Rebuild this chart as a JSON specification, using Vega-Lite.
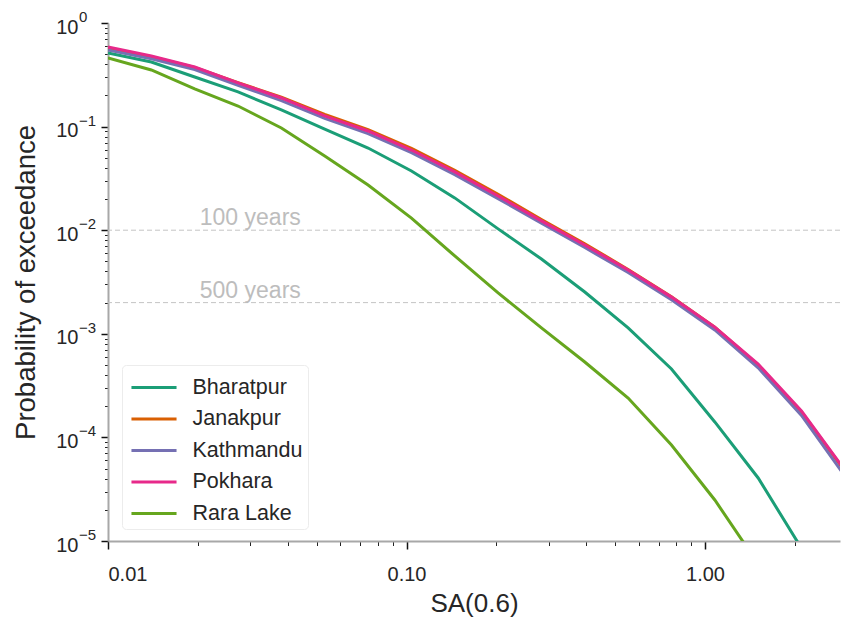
{
  "$schema": "https://vega.github.io/schema/vega-lite/v6.json",
  "width": 732,
  "height": 518,
  "autosize": "none",
  "padding": {"left": 108, "top": 23, "right": 1, "bottom": 78},
  "background": "white",
  "config": {
    "view": {"stroke": null},
    "axis": {"grid": false, "labelFont": "Liberation Sans", "titleFont": "Liberation Sans", "labelColor": "#262626", "titleColor": "#262626", "titleFontWeight": "normal"},
    "text": {"font": "Liberation Sans"},
    "legend": {"labelFont": "Liberation Sans"}
  },
  "datasets": {
    "curves": [
      {"site": "Bharatpur", "sa": 0.01, "p": 0.513},
      {"site": "Bharatpur", "sa": 0.01397, "p": 0.42},
      {"site": "Bharatpur", "sa": 0.01952, "p": 0.301},
      {"site": "Bharatpur", "sa": 0.02727, "p": 0.216},
      {"site": "Bharatpur", "sa": 0.03809, "p": 0.145},
      {"site": "Bharatpur", "sa": 0.05322, "p": 0.0948},
      {"site": "Bharatpur", "sa": 0.07435, "p": 0.0621},
      {"site": "Bharatpur", "sa": 0.1039, "p": 0.0373},
      {"site": "Bharatpur", "sa": 0.1451, "p": 0.0205},
      {"site": "Bharatpur", "sa": 0.2027, "p": 0.0103},
      {"site": "Bharatpur", "sa": 0.2832, "p": 0.00527},
      {"site": "Bharatpur", "sa": 0.3956, "p": 0.00253},
      {"site": "Bharatpur", "sa": 0.5527, "p": 0.00114},
      {"site": "Bharatpur", "sa": 0.7721, "p": 0.000457},
      {"site": "Bharatpur", "sa": 1.0786, "p": 0.000141},
      {"site": "Bharatpur", "sa": 1.507, "p": 0.0000406},
      {"site": "Bharatpur", "sa": 2.105, "p": 0.0000085},

      {"site": "Janakpur", "sa": 0.01, "p": 0.572},
      {"site": "Janakpur", "sa": 0.01397, "p": 0.472},
      {"site": "Janakpur", "sa": 0.01952, "p": 0.372},
      {"site": "Janakpur", "sa": 0.02727, "p": 0.266},
      {"site": "Janakpur", "sa": 0.03809, "p": 0.192},
      {"site": "Janakpur", "sa": 0.05322, "p": 0.131},
      {"site": "Janakpur", "sa": 0.07435, "p": 0.0935},
      {"site": "Janakpur", "sa": 0.1039, "p": 0.0615},
      {"site": "Janakpur", "sa": 0.1451, "p": 0.0378},
      {"site": "Janakpur", "sa": 0.2027, "p": 0.0222},
      {"site": "Janakpur", "sa": 0.2832, "p": 0.0127},
      {"site": "Janakpur", "sa": 0.3956, "p": 0.0074},
      {"site": "Janakpur", "sa": 0.5527, "p": 0.00418},
      {"site": "Janakpur", "sa": 0.7721, "p": 0.00228},
      {"site": "Janakpur", "sa": 1.0786, "p": 0.00116},
      {"site": "Janakpur", "sa": 1.507, "p": 0.0005},
      {"site": "Janakpur", "sa": 2.105, "p": 0.000176},
      {"site": "Janakpur", "sa": 2.94, "p": 0.0000475},

      {"site": "Kathmandu", "sa": 0.01, "p": 0.548},
      {"site": "Kathmandu", "sa": 0.01397, "p": 0.452},
      {"site": "Kathmandu", "sa": 0.01952, "p": 0.356},
      {"site": "Kathmandu", "sa": 0.02727, "p": 0.25},
      {"site": "Kathmandu", "sa": 0.03809, "p": 0.178},
      {"site": "Kathmandu", "sa": 0.05322, "p": 0.12},
      {"site": "Kathmandu", "sa": 0.07435, "p": 0.0855},
      {"site": "Kathmandu", "sa": 0.1039, "p": 0.056},
      {"site": "Kathmandu", "sa": 0.1451, "p": 0.0344},
      {"site": "Kathmandu", "sa": 0.2027, "p": 0.0202},
      {"site": "Kathmandu", "sa": 0.2832, "p": 0.0117},
      {"site": "Kathmandu", "sa": 0.3956, "p": 0.0068},
      {"site": "Kathmandu", "sa": 0.5527, "p": 0.0039},
      {"site": "Kathmandu", "sa": 0.7721, "p": 0.00213},
      {"site": "Kathmandu", "sa": 1.0786, "p": 0.00109},
      {"site": "Kathmandu", "sa": 1.507, "p": 0.00047},
      {"site": "Kathmandu", "sa": 2.105, "p": 0.000163},
      {"site": "Kathmandu", "sa": 2.94, "p": 0.0000425},

      {"site": "Pokhara", "sa": 0.01, "p": 0.587},
      {"site": "Pokhara", "sa": 0.01397, "p": 0.48},
      {"site": "Pokhara", "sa": 0.01952, "p": 0.376},
      {"site": "Pokhara", "sa": 0.02727, "p": 0.264},
      {"site": "Pokhara", "sa": 0.03809, "p": 0.189},
      {"site": "Pokhara", "sa": 0.05322, "p": 0.127},
      {"site": "Pokhara", "sa": 0.07435, "p": 0.0907},
      {"site": "Pokhara", "sa": 0.1039, "p": 0.0594},
      {"site": "Pokhara", "sa": 0.1451, "p": 0.0365},
      {"site": "Pokhara", "sa": 0.2027, "p": 0.0214},
      {"site": "Pokhara", "sa": 0.2832, "p": 0.0123},
      {"site": "Pokhara", "sa": 0.3956, "p": 0.0072},
      {"site": "Pokhara", "sa": 0.5527, "p": 0.00413},
      {"site": "Pokhara", "sa": 0.7721, "p": 0.00226},
      {"site": "Pokhara", "sa": 1.0786, "p": 0.00116},
      {"site": "Pokhara", "sa": 1.507, "p": 0.00051},
      {"site": "Pokhara", "sa": 2.105, "p": 0.00018},
      {"site": "Pokhara", "sa": 2.94, "p": 0.0000484},

      {"site": "Rara Lake", "sa": 0.01, "p": 0.459},
      {"site": "Rara Lake", "sa": 0.01397, "p": 0.352},
      {"site": "Rara Lake", "sa": 0.01952, "p": 0.231},
      {"site": "Rara Lake", "sa": 0.02727, "p": 0.158},
      {"site": "Rara Lake", "sa": 0.03809, "p": 0.0969},
      {"site": "Rara Lake", "sa": 0.05322, "p": 0.052},
      {"site": "Rara Lake", "sa": 0.07435, "p": 0.0273},
      {"site": "Rara Lake", "sa": 0.1039, "p": 0.0131},
      {"site": "Rara Lake", "sa": 0.1451, "p": 0.00564},
      {"site": "Rara Lake", "sa": 0.2027, "p": 0.00248},
      {"site": "Rara Lake", "sa": 0.2832, "p": 0.00114},
      {"site": "Rara Lake", "sa": 0.3956, "p": 0.000534},
      {"site": "Rara Lake", "sa": 0.5527, "p": 0.00024},
      {"site": "Rara Lake", "sa": 0.7721, "p": 0.0000845},
      {"site": "Rara Lake", "sa": 1.0786, "p": 0.0000249},
      {"site": "Rara Lake", "sa": 1.507, "p": 0.000006}
    ],
    "periods": [
      {"p": 0.01, "label": "100 years"},
      {"p": 0.002, "label": "500 years"}
    ],
    "decades": [
      {"p": 1, "exp": "0"},
      {"p": 0.1, "exp": "−1"},
      {"p": 0.01, "exp": "−2"},
      {"p": 0.001, "exp": "−3"},
      {"p": 0.0001, "exp": "−4"},
      {"p": 0.00001, "exp": "−5"}
    ]
  },
  "resolve": {"axis": {"x": "independent", "y": "independent"}},
  "layer": [
    {
      "data": {"name": "periods"},
      "mark": {"type": "rule", "color": "#c4c4c4", "strokeWidth": 1, "strokeDash": [5, 3]},
      "encoding": {
        "y": {
          "field": "p", "type": "quantitative",
          "scale": {"type": "log", "domain": [0.00001, 1], "nice": false},
          "axis": {
            "orient": "left",
            "values": [0.00009, 0.00008, 0.00007, 0.00006, 0.00005, 0.00004, 0.00003, 0.00002,
                       0.0009, 0.0008, 0.0007, 0.0006, 0.0005, 0.0004, 0.0003, 0.0002,
                       0.009, 0.008, 0.007, 0.006, 0.005, 0.004, 0.003, 0.002,
                       0.09, 0.08, 0.07, 0.06, 0.05, 0.04, 0.03, 0.02,
                       0.9, 0.8, 0.7, 0.6, 0.5, 0.4, 0.3, 0.2],
            "labels": false, "domain": false, "title": null,
            "tickSize": 3.5, "tickWidth": 1, "tickColor": "#222222"
          }
        }
      }
    },
    {
      "data": {"name": "periods"},
      "mark": {"type": "text", "align": "left", "baseline": "alphabetic", "dy": -5, "fontSize": 23, "color": "#bdbdbd"},
      "encoding": {
        "x": {
          "datum": 0.0203, "type": "quantitative",
          "scale": {"type": "log", "domain": [0.01, 2.833], "nice": false},
          "axis": {
            "orient": "bottom",
            "values": [0.02, 0.03, 0.04, 0.05, 0.06, 0.07, 0.08, 0.09,
                       0.2, 0.3, 0.4, 0.5, 0.6, 0.7, 0.8, 0.9, 2],
            "labels": false, "domain": false, "title": null,
            "tickSize": 4.5, "tickWidth": 1, "tickColor": "#222222"
          }
        },
        "y": {"field": "p", "type": "quantitative", "axis": null},
        "text": {"field": "label"}
      }
    },
    {
      "data": {"name": "curves"},
      "mark": {"type": "line", "strokeWidth": 3, "clip": true},
      "encoding": {
        "x": {
          "field": "sa", "type": "quantitative",
          "scale": {"type": "log", "domain": [0.01, 2.833], "nice": false},
          "axis": {
            "orient": "bottom",
            "values": [0.01, 0.1, 1],
            "labelExpr": "format(datum.value, '.2f')",
            "labelFontSize": 20, "labelPadding": 15,
            "tickSize": 8, "tickWidth": 1.5, "tickColor": "#111111",
            "domainColor": "#a8a8a8", "domainWidth": 2,
            "title": "SA(0.6)", "titleFontSize": 26, "titlePadding": 6
          }
        },
        "y": {
          "field": "p", "type": "quantitative",
          "scale": {"type": "log", "domain": [0.00001, 1], "nice": false},
          "axis": {
            "orient": "left",
            "values": [0.00001, 0.0001, 0.001, 0.01, 0.1, 1],
            "labelExpr": "'10'",
            "labelFontSize": 20, "labelPadding": 23, "labelOffset": 4,
            "tickSize": 7, "tickWidth": 1.5, "tickColor": "#111111",
            "domainColor": "#a8a8a8", "domainWidth": 2,
            "title": "Probability of exceedance", "titleFontSize": 27.5, "titlePadding": 15
          }
        },
        "color": {
          "field": "site", "type": "nominal",
          "scale": {
            "domain": ["Bharatpur", "Janakpur", "Kathmandu", "Pokhara", "Rara Lake"],
            "range": ["#1b9e77", "#d95f02", "#7570b3", "#e7298a", "#66a61e"]
          },
          "legend": {
            "orient": "none", "legendX": 14, "legendY": 342,
            "title": null,
            "symbolType": "M-1.42,0H1.42", "symbolSize": 1008, "symbolStrokeWidth": 3,
            "symbolOffset": 9.5, "labelOffset": 21,
            "labelFontSize": 21.5, "labelColor": "#262626",
            "padding": 5, "rowPadding": 3.5,
            "fillColor": "white", "strokeColor": "#ececec", "cornerRadius": 4
          }
        }
      }
    },
    {
      "data": {"name": "decades"},
      "mark": {"type": "text", "align": "left", "baseline": "middle", "dx": -29, "dy": -6, "fontSize": 15, "color": "#262626"},
      "encoding": {
        "x": {"datum": 0.01, "type": "quantitative", "axis": null},
        "y": {"field": "p", "type": "quantitative", "axis": null},
        "text": {"field": "exp"}
      }
    }
  ]
}
